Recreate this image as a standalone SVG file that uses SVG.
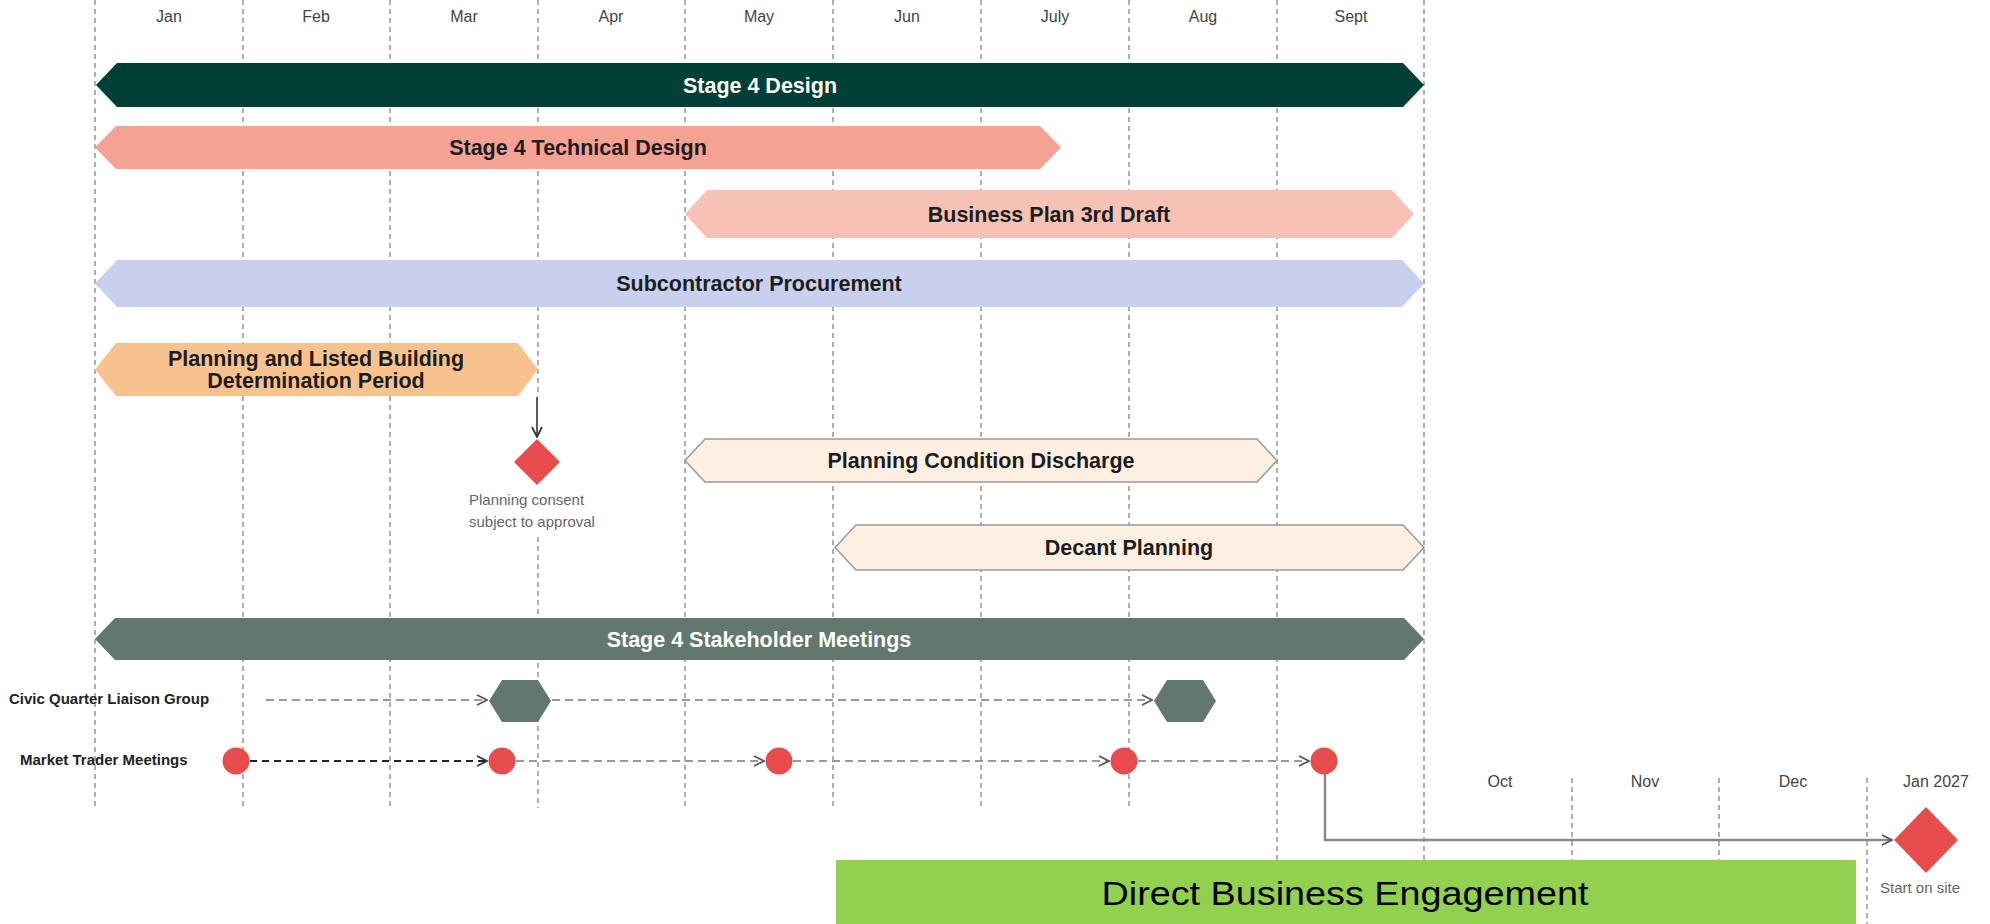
<svg xmlns="http://www.w3.org/2000/svg" width="1990" height="924" viewBox="0 0 1990 924">
<defs>
<style>
.grid{stroke:#7a7a7a;stroke-width:1.2;stroke-dasharray:5 4;fill:none}
.month{font-family:"Liberation Sans",Arial,sans-serif;font-size:16px;fill:#444;text-anchor:middle}
.bt{font-family:"Liberation Sans",Arial,sans-serif;font-size:21.5px;font-weight:bold;text-anchor:middle;fill:#1c1c1c}
.bw{fill:#ffffff}
.row{font-family:"Liberation Sans",Arial,sans-serif;font-size:15px;font-weight:bold;fill:#222}
.small{font-family:"Liberation Sans",Arial,sans-serif;font-size:15px;fill:#666}
.cream{fill:#fdf0e2;stroke:#9a9a9a;stroke-width:1.5}
.red{fill:#e84c4c}
.hex{fill:#62786f}
.dg{stroke:#999;stroke-width:2;stroke-dasharray:8 5;fill:none}
.dk{stroke:#222;stroke-width:2;stroke-dasharray:7 5;fill:none}
</style>
<marker id="ag" viewBox="0 0 12 12" refX="11" refY="6" markerWidth="12" markerHeight="12" markerUnits="userSpaceOnUse" orient="auto"><path d="M1,1 L11,6 L1,11" fill="none" stroke="#555" stroke-width="1.8"/></marker>
<marker id="ak" viewBox="0 0 12 12" refX="11" refY="6" markerWidth="12" markerHeight="12" markerUnits="userSpaceOnUse" orient="auto"><path d="M1,1 L11,6 L1,11" fill="none" stroke="#333" stroke-width="1.8"/></marker>
</defs>
<rect width="1990" height="924" fill="#ffffff"/>

<g id="grid">
<line class="grid" x1="95" y1="0" x2="95" y2="808"/>
<line class="grid" x1="243" y1="0" x2="243" y2="808"/>
<line class="grid" x1="390" y1="0" x2="390" y2="808"/>
<line class="grid" x1="538" y1="0" x2="538" y2="396"/>
<line class="grid" x1="538" y1="537" x2="538" y2="808"/>
<line class="grid" x1="685" y1="0" x2="685" y2="808"/>
<line class="grid" x1="833" y1="0" x2="833" y2="808"/>
<line class="grid" x1="981" y1="0" x2="981" y2="808"/>
<line class="grid" x1="1129" y1="0" x2="1129" y2="808"/>
<line class="grid" x1="1277" y1="0" x2="1277" y2="860"/>
<line class="grid" x1="1424" y1="0" x2="1424" y2="860"/>
<line class="grid" x1="1572" y1="778" x2="1572" y2="860"/>
<line class="grid" x1="1719" y1="778" x2="1719" y2="860"/>
<line class="grid" x1="1867" y1="778" x2="1867" y2="924"/>
</g>

<g id="months">
<text class="month" x="169" y="22">Jan</text>
<text class="month" x="316" y="22">Feb</text>
<text class="month" x="464" y="22">Mar</text>
<text class="month" x="611" y="22">Apr</text>
<text class="month" x="759" y="22">May</text>
<text class="month" x="907" y="22">Jun</text>
<text class="month" x="1055" y="22">July</text>
<text class="month" x="1203" y="22">Aug</text>
<text class="month" x="1351" y="22">Sept</text>
<text class="month" x="1500" y="787">Oct</text>
<text class="month" x="1645" y="787">Nov</text>
<text class="month" x="1793" y="787">Dec</text>
<text class="month" x="1936" y="787">Jan 2027</text>
</g>

<g id="stage4-design">
<path d="M96,85 L117,63 L1403,63 L1424,85 L1403,107 L117,107 Z" fill="#003f35"/>
<text class="bt bw" x="760" y="93">Stage 4 Design</text>
</g>
<g id="stage4-technical-design">
<path d="M95,147.5 L116,126 L1040,126 L1061,147.5 L1040,169 L116,169 Z" fill="#f3a294"/>
<text class="bt" x="578" y="155">Stage 4 Technical Design</text>
</g>
<g id="business-plan">
<path d="M685,214 L707,190 L1392,190 L1414,214 L1392,238 L707,238 Z" fill="#f7c2b6"/>
<text class="bt" x="1049" y="222">Business Plan 3rd Draft</text>
</g>
<g id="subcontractor-procurement">
<path d="M95,283.5 L117,260 L1402,260 L1424,283.5 L1402,307 L117,307 Z" fill="#c8d0ee"/>
<text class="bt" x="759" y="291">Subcontractor Procurement</text>
</g>
<g id="planning-determination">
<path d="M95,369.5 L116,343 L518,343 L538,369.5 L518,396 L116,396 Z" fill="#f8c28f"/>
<text class="bt" x="316" y="366" font-size="20.5">Planning and Listed Building</text>
<text class="bt" x="316" y="388" font-size="20.5">Determination Period</text>
</g>
<g id="planning-consent">
<path d="M537,439 L560,462 L537,485 L514,462 Z" class="red"/>
<text class="small" x="469" y="505">Planning consent</text>
<text class="small" x="469" y="527">subject to approval</text>
</g>
<g id="planning-condition-discharge">
<path d="M685,460.5 L705,439 L1257,439 L1277,460.5 L1257,482 L705,482 Z" class="cream"/>
<text class="bt" x="981" y="468">Planning Condition Discharge</text>
</g>
<g id="decant-planning">
<path d="M835,547.5 L856,525 L1403,525 L1424,547.5 L1403,570 L856,570 Z" class="cream"/>
<text class="bt" x="1129" y="555">Decant Planning</text>
</g>
<g id="stakeholder-meetings">
<path d="M95,639 L115,618 L1404,618 L1424,639 L1404,660 L115,660 Z" fill="#62786f"/>
<text class="bt bw" x="759" y="647">Stage 4 Stakeholder Meetings</text>
</g>

<g id="row-labels">
<text class="row" x="9" y="704">Civic Quarter Liaison Group</text>
<text class="row" x="20" y="765">Market Trader Meetings</text>
</g>

<g id="connectors">
<line x1="537" y1="397" x2="537" y2="437" stroke="#333" stroke-width="1.6" marker-end="url(#ak)"/>
<line class="dg" x1="266" y1="700" x2="487" y2="700" marker-end="url(#ag)"/>
<line class="dg" x1="552" y1="700" x2="1152" y2="700" marker-end="url(#ag)"/>
<line class="dk" x1="250" y1="761" x2="487" y2="761" marker-end="url(#ak)"/>
<line class="dg" x1="516" y1="761" x2="764" y2="761" marker-end="url(#ag)"/>
<line class="dg" x1="793" y1="761" x2="1109" y2="761" marker-end="url(#ag)"/>
<line class="dg" x1="1138" y1="761" x2="1309" y2="761" marker-end="url(#ag)"/>
<path d="M1325,774 L1325,840 L1892,840" fill="none" stroke="#8a8a8a" stroke-width="2.5" marker-end="url(#ag)"/>
</g>

<g id="civic-meeting-1"><path d="M489,701 L502,680 L538,680 L551,701 L538,722 L502,722 Z" class="hex"/></g>
<g id="civic-meeting-2"><path d="M1154,701 L1167,680 L1203,680 L1216,701 L1203,722 L1167,722 Z" class="hex"/></g>

<g id="market-meetings">
<circle class="red" cx="236" cy="761" r="13.5"/>
<circle class="red" cx="502" cy="761" r="13.5"/>
<circle class="red" cx="779" cy="761" r="13.5"/>
<circle class="red" cx="1124" cy="761" r="13.5"/>
<circle class="red" cx="1324" cy="761" r="13.5"/>
</g>

<g id="start-on-site">
<path d="M1926,807 L1958,840 L1926,873 L1894,840 Z" class="red"/>
<text class="small" x="1880" y="893">Start on site</text>
</g>

<g id="direct-business-engagement">
<rect x="836" y="860" width="1020" height="64" fill="#92d050"/>
<text x="1345" y="905" font-family="Liberation Sans, Arial, sans-serif" font-size="34" fill="#000" text-anchor="middle" textLength="487" lengthAdjust="spacingAndGlyphs">Direct Business Engagement</text>
</g>
</svg>
